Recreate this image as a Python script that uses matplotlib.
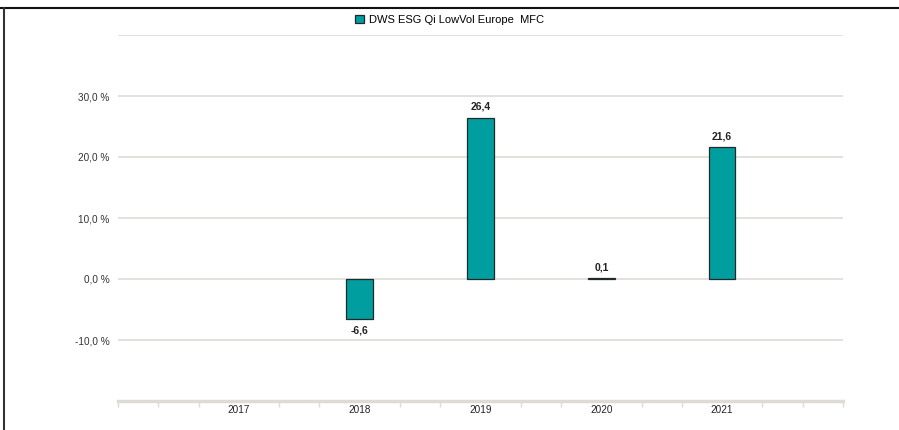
import matplotlib
matplotlib.use("Agg")
import matplotlib.pyplot as plt
from matplotlib.patches import Rectangle
from matplotlib.lines import Line2D

plt.rcParams["font.family"] = ["Liberation Sans", "DejaVu Sans"]

years = [2017, 2018, 2019, 2020, 2021]
returns = [None, -6.6, 26.4, 0.1, 21.6]
series_name = "DWS ESG Qi LowVol Europe  MFC"
yticks = [-10, 0, 10, 20, 30]

C_BAR = "#009e9f"
C_EDGE = "#1f2a2a"
C_GRID = "#dddbd4"

fig = plt.figure(figsize=(8.99, 4.30), dpi=100)
ax = fig.add_axes([118 / 899, 1 - 401 / 430, 725 / 899, 366 / 430])

for y in [-10, 0, 10, 20, 30, 40]:
    ax.axhline(y, color=C_GRID, linewidth=1.2, zorder=0)

for yr, v in zip(years, returns):
    if v is None:
        continue
    ax.bar(yr, v, width=0.22, color=C_BAR, edgecolor=C_EDGE, linewidth=0.9, zorder=2)
    lbl = f"{v:.1f}".replace(".", ",")
    if v >= 0:
        ax.text(yr, v + 1.0, lbl, ha="center", va="bottom", fontsize=7.5,
                fontweight="bold", color="#222222")
    else:
        ax.text(yr, v - 1.0, lbl, ha="center", va="top", fontsize=7.5,
                fontweight="bold", color="#222222")

ax.set_xlim(2016, 2022)
ax.set_ylim(-20, 40)
ax.set_yticks(yticks)
ax.set_yticklabels([f"{t:.1f} %".replace(".", ",") for t in yticks], fontsize=7.2, color="#333333")
ax.tick_params(axis="y", length=0, pad=6)

ax.set_xticks(years)
ax.set_xticklabels([str(y) for y in years], fontsize=7.2, color="#222222")
ax.tick_params(axis="x", length=0, pad=3)
minor = [2016 + k / 3 for k in range(19) if k % 3 != 0 or k in (0, 18)]
ax.set_xticks(minor, minor=True)
ax.tick_params(axis="x", which="minor", length=4, width=1.0, color=C_GRID)

for s in ["top", "right", "left"]:
    ax.spines[s].set_visible(False)
ax.spines["bottom"].set_color(C_GRID)
ax.spines["bottom"].set_linewidth(2.5)

handle = Rectangle((0, 0), 1, 1, facecolor=C_BAR, edgecolor=C_EDGE, linewidth=0.9)
fig.legend([handle], [series_name], loc="center", bbox_to_anchor=(0.5, 1 - 20 / 430),
           frameon=False, fontsize=8, handlelength=0.8, handleheight=0.8, handletextpad=0.5)

# border lines (top and left)
fig.add_artist(Line2D([0, 1], [1 - 8 / 430, 1 - 8 / 430], transform=fig.transFigure,
                      color="#111111", linewidth=1.5))
fig.add_artist(Line2D([4 / 899, 4 / 899], [0, 1 - 8 / 430], transform=fig.transFigure,
                      color="#333333", linewidth=1.5))

fig.savefig("out.png", dpi=100)
